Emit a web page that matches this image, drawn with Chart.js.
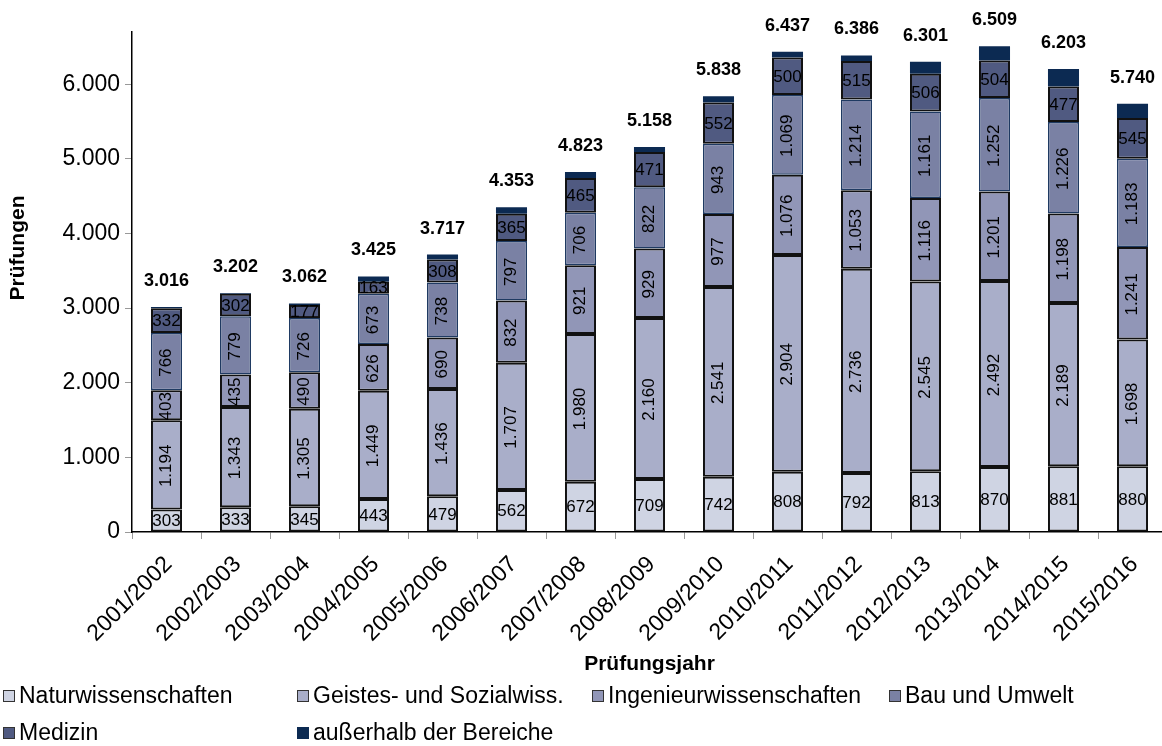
<!DOCTYPE html>
<html>
<head>
<meta charset="utf-8">
<script src="https://cdn.jsdelivr.net/npm/chart.js@4.4.1/dist/chart.umd.min.js"></script>
<style>
body{margin:0;overflow:hidden;background:#fff;font-family:"Liberation Sans",Arial,sans-serif;}
#chart{position:absolute;left:0;top:0;}
#legende{position:absolute;left:0;top:0;width:1162px;height:746px;pointer-events:none;}
.item{position:absolute;font-size:23px;line-height:26px;color:#000;white-space:nowrap;}
.box{display:inline-block;width:10px;height:10px;border:1.5px solid #333;margin-right:4px;vertical-align:1px;}
</style>
</head>
<body>
<canvas id="chart" width="1170" height="680"></canvas>
<div id="legende"></div>
<script>
var jahre = ["2001/2002","2002/2003","2003/2004","2004/2005","2005/2006","2006/2007","2007/2008","2008/2009","2009/2010","2010/2011","2011/2012","2012/2013","2013/2014","2014/2015","2015/2016"];
var naturwiss = [303,333,345,443,479,562,672,709,742,808,792,813,870,881,880];
var geistes = [1194,1343,1305,1449,1436,1707,1980,2160,2541,2904,2736,2545,2492,2189,1698];
var ingenieur = [403,435,490,626,690,832,921,929,977,1076,1053,1116,1201,1198,1241];
var bauUmwelt = [766,779,726,673,738,797,706,822,943,1069,1214,1161,1252,1226,1183];
var medizin = [332,302,177,163,308,365,465,471,552,500,515,506,504,477,545];
var ausserhalb = [18,10,19,71,66,90,79,67,83,80,76,160,190,232,193];
var gesamt = [3016,3202,3062,3425,3717,4353,4823,5158,5838,6437,6386,6301,6509,6203,5740];
var yTicks = [0,1000,2000,3000,4000,5000,6000];

var namen = ["Naturwissenschaften","Geistes- und Sozialwiss.","Ingenieurwissenschaften","Bau und Umwelt","Medizin","außerhalb der Bereiche"];
var farben = ["#CFD4E3","#A9AEC9","#9196B7","#7A81A4","#505A81","#0C2A52"];
var rahmen = ["#111","#111","#111","#1F3A62","#111","#0C2A52"];
var rahmenBreite = [2,2,2,1.5,2,0];
var senkrecht = [false,true,true,true,false,false];

var fmt = (v) => String(v).replace(/\B(?=(\d{3})+(?!\d))/g, ".");

Chart.defaults.font.family = '"Liberation Sans", Arial, sans-serif';
Chart.defaults.color = "#000";

var reihen = [naturwiss, geistes, ingenieur, bauUmwelt, medizin, ausserhalb];

// Werte in den Balken, Summen oben drauf, y-Achsentitel
var wertLabels = {
	id: "wertLabels",
	afterDatasetsDraw(chart) {
		var ctx = chart.ctx;
		ctx.save();
		ctx.fillStyle = "#000";
		ctx.textAlign = "center";
		ctx.textBaseline = "middle";
		ctx.font = '17px "Liberation Sans"';
		chart.data.datasets.forEach((ds, i) => {
			if (i == 5) return;
			var meta = chart.getDatasetMeta(i);
			meta.data.forEach((bar, j) => {
				var txt = fmt(ds.data[j]);
				var y = (bar.y + bar.base) / 2;
				if (senkrecht[i]) {
					ctx.save();
					ctx.translate(bar.x, y + 1);
					ctx.rotate(-Math.PI / 2);
					ctx.fillText(txt, 0, 0);
					ctx.restore();
				} else {
					ctx.fillText(txt, bar.x, y + 1);
				}
			});
		});
		ctx.font = 'bold 18px "Liberation Sans"';
		var yScale = chart.scales.y;
		chart.getDatasetMeta(5).data.forEach((bar, j) => {
			ctx.fillText(fmt(gesamt[j]), bar.x, yScale.getPixelForValue(gesamt[j]) - 26);
		});
		// Achsentitel links, wie im Original etwas oberhalb der Mitte
		ctx.font = 'bold 21px "Liberation Sans"';
		ctx.translate(18, 248);
		ctx.rotate(-Math.PI / 2);
		ctx.fillText("Prüfungen", 0, 0);
		ctx.restore();
	}
};

var ctx1 = document.getElementById("chart").getContext("2d");
var myChart = new Chart(ctx1, {
	type: "bar",
	data: {
		labels: jahre,
		datasets: reihen.map((r, i) => ({
			label: namen[i],
			data: r,
			backgroundColor: farben[i],
			borderColor: rahmen[i],
			borderWidth: rahmenBreite[i],
			borderSkipped: false,
			barPercentage: 0.45,
			categoryPercentage: 1
		}))
	},
	options: {
		responsive: false,
		animation: false,
		layout: { padding: { top: 32, right: 3, left: 0, bottom: 0 } },
		plugins: { legend: { display: false }, tooltip: { enabled: false } },
		scales: {
			x: {
				stacked: true,
				grid: { offset: true, drawOnChartArea: false, tickLength: 7, color: "#999" },
				border: { color: "#000", width: 1.5 },
				ticks: { font: { size: 23 }, color: "#000", maxRotation: 45, minRotation: 45, padding: 12, labelOffset: 2 },
				title: { display: true, text: "Prüfungsjahr", font: { size: 21, weight: "bold" }, color: "#000", padding: { top: 4, bottom: 3 } },
				afterFit(scale) { scale.height = 148; }
			},
			y: {
				stacked: true,
				min: 0,
				max: 6700,
				afterBuildTicks(scale) { scale.ticks = yTicks.map(v => ({ value: v })); },
				ticks: { font: { size: 23 }, color: "#000", padding: 5, callback: (v) => fmt(v) },
				grid: { drawOnChartArea: false, tickLength: 7, color: "#999" },
				border: { color: "#000", width: 1.5 },
				afterFit(scale) { scale.width = 132; }
			}
		}
	},
	plugins: [wertLabels]
});

// Legende wie im Original: 4 Spalten, 2 Zeilen
var legende = document.getElementById("legende");
var spalten = [3, 297, 592, 889];
namen.forEach((n, i) => {
	var d = document.createElement("div");
	d.className = "item";
	d.style.left = spalten[i % 4] + "px";
	d.style.top = (682 + Math.floor(i / 4) * 37) + "px";
	var b = document.createElement("span");
	b.className = "box";
	b.style.background = farben[i];
	if (i == 5) b.style.borderColor = farben[i];
	d.appendChild(b);
	d.appendChild(document.createTextNode(n));
	legende.appendChild(d);
});
</script>
</body>
</html>
